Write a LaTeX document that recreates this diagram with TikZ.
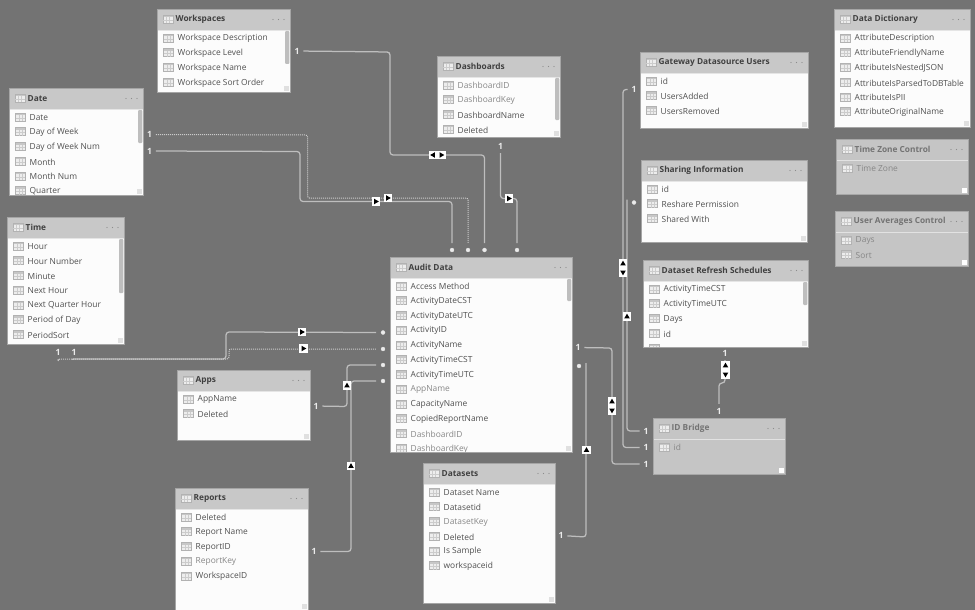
\documentclass[tikz,border=0pt]{standalone}
\usepackage{fontspec}
\setmainfont{Open Sans}
\usetikzlibrary{positioning,calc}
\definecolor{canvascolor}{RGB}{115,115,115}
\definecolor{headcolor}{RGB}{200,200,200}
\definecolor{dimcolor}{RGB}{197,197,197}
\definecolor{edgecolor}{RGB}{165,165,165}
\definecolor{linecolor}{RGB}{190,190,190}
\definecolor{fieldcolor}{RGB}{80,80,80}
\definecolor{hiddencolor}{RGB}{135,135,135}
\definecolor{thumbcolor}{RGB}{190,190,190}

\newcommand{\hid}[1]{\textcolor{hiddencolor}{#1}}

% style prefix, name, x, y, width, height, title, fields
\newcommand{\dbtable}[8][live]{%
  \node[#1box, minimum width=#5pt, minimum height=#6pt, anchor=north west] (#2) at (#3,#4) {};
  \fill[#1head] (#2.north west) rectangle ([yshift=-21.5pt]#2.north east);
  \draw[#1sep] ([yshift=-21.5pt]#2.north west) -- ([yshift=-21.5pt]#2.north east);
  \pic at ([xshift=11pt,yshift=-10pt]#2.north west) {gridicon};
  \node[#1title, anchor=west] (#2Title) at ([xshift=18.5pt,yshift=-10.5pt]#2.north west) {#7};
  \foreach \k in {0,1,2}
    \fill[black!45] ([xshift={-(6+\k*5.5)*1pt},yshift=-10.5pt]#2.north east) circle (0.6pt);
  \begin{scope}
    \clip (#2.north west) rectangle (#2.south east);
    \foreach \row [count=\i] in {#8} {
      \pic at ([xshift=11.5pt,yshift={-(28.8+(\i-1)*14.75)*1pt}]#2.north west) {gridicon};
      \node[#1field, anchor=west] (#2Row\i) at ([xshift=20.5pt,yshift={-(29.6+(\i-1)*14.75)*1pt}]#2.north west) {\row};
    }
  \end{scope}
  \fill[#1grip] ([xshift=-6pt,yshift=1pt]#2.south east) rectangle ([xshift=-1pt,yshift=6pt]#2.south east);
  \draw[#1edge] (#2.north west) rectangle (#2.south east);
}
\newcommand{\scrollthumb}[2]{%
  \fill[thumbcolor, rounded corners=1pt] ([xshift=-5pt,yshift=-22pt]#1.north east) rectangle ([xshift=-0.6pt,yshift={-(22+#2)*1pt}]#1.north east);
}

\begin{document}
\begin{tikzpicture}[
  x=1pt, y=-1pt,
  gridicon/.pic={
    \fill[black!7] (-4.8,-4) rectangle (4.8,4);
    \fill[black!22] (-4.8,-4) rectangle (4.8,-1.8);
    \draw[black!30, line width=0.5pt] (-4.8,-4) rectangle (4.8,4);
    \draw[black!20, line width=0.4pt] (-1.8,-1.8) -- (-1.8,4) (1.5,-1.8) -- (1.5,4)
      (-4.8,1) -- (4.8,1);
  },
  livebox/.style={fill=white!99!black, inner sep=0pt, outer sep=0pt},
  dimbox/.style={fill=dimcolor, inner sep=0pt, outer sep=0pt},
  livehead/.style={fill=headcolor},
  dimhead/.style={fill=dimcolor},
  livesep/.style={draw=white!90!black, line width=0.4pt},
  dimsep/.style={draw=white!50!dimcolor, line width=0.5pt},
  liveedge/.style={draw=edgecolor, line width=0.8pt},
  dimedge/.style={draw=dimcolor!85!black, line width=0.6pt},
  livetitle/.style={font=\fontsize{8.3}{10}\selectfont\bfseries, text=black!75, inner sep=0pt},
  dimtitle/.style={font=\fontsize{8.3}{10}\selectfont\bfseries, text=black!55, inner sep=0pt},
  livefield/.style={font=\fontsize{8.4}{10}\selectfont, text=fieldcolor, inner sep=0pt},
  dimfield/.style={font=\fontsize{8.4}{10}\selectfont, text=hiddencolor, inner sep=0pt},
  livegrip/.style={fill=black!12},
  dimgrip/.style={fill=white},
  onemark/.style={font=\fontsize{8.6}{10}\selectfont\bfseries, text=white!92!black, inner sep=1pt, outer sep=3pt},
  manymark/.style={circle, fill=white!92!black, draw=black!10, line width=0.3pt, minimum size=4pt, inner sep=0pt, outer sep=5pt},
  rel/.style={draw=linecolor, line width=1.25pt, rounded corners=3pt},
  reldot/.style={draw=white!80!black, line width=1pt, dash pattern=on 1pt off 1pt, rounded corners=2pt},
  badge/.style={
    rectangle, fill=white, minimum size=8.5pt, inner sep=0pt,
    path picture={
      \fill[black] ([shift={(#1:2.8pt)}]path picture bounding box.center)
        -- ([shift={(#1+125:3.4pt)}]path picture bounding box.center)
        -- ([shift={(#1-125:3.4pt)}]path picture bounding box.center) -- cycle;
    }
  }
]
\useasboundingbox (0,0) rectangle (975,610);
\fill[canvascolor] (0,0) rectangle (975,610);

% -------- Tables --------
\dbtable{workspaces}{157}{9}{133}{83}{Workspaces}{Workspace Description,Workspace Level,Workspace Name,Workspace Sort Order}
\scrollthumb{workspaces}{33}
\dbtable{date}{9}{88}{134}{107}{Date}{Date,Day of Week,Day of Week Num,Month,Month Num,Quarter}
\scrollthumb{date}{33}
\dbtable{time}{7}{217}{117}{127}{Time}{Hour,Hour Number,Minute,Next Hour,Next Quarter Hour,Period of Day,PeriodSort}
\scrollthumb{time}{54}
\dbtable{apps}{177}{370}{133}{70}{Apps}{AppName,Deleted}
\dbtable{reports}{175}{488}{133}{122}{Reports}{Deleted,Report Name,ReportID,\hid{ReportKey},WorkspaceID}
\dbtable{dashboards}{437}{56}{123}{81}{Dashboards}{\hid{DashboardID},\hid{DashboardKey},DashboardName,Deleted}
\scrollthumb{dashboards}{42}
\dbtable{audit}{390}{257}{182}{195}{Audit Data}{Access Method,ActivityDateCST,ActivityDateUTC,ActivityID,ActivityName,ActivityTimeCST,ActivityTimeUTC,\hid{AppName},CapacityName,CopiedReportName,\hid{DashboardID},\hid{DashboardKey}}
\scrollthumb{audit}{22}
\dbtable{datasets}{423}{463}{132}{140}{Datasets}{Dataset Name,Datasetid,\hid{DatasetKey},Deleted,Is Sample,workspaceid}
\dbtable{gateway}{640}{52}{168}{76}{Gateway Datasource Users}{id,UsersAdded,UsersRemoved}
\dbtable{sharing}{641}{160}{166}{82}{Sharing Information}{id,Reshare Permission,Shared With}
\dbtable{refresh}{643}{260}{165}{87}{Dataset Refresh Schedules}{ActivityTimeCST,ActivityTimeUTC,Days,id,\relax}
\scrollthumb{refresh}{23}
\dbtable{dictionary}{834}{9}{136}{118}{Data Dictionary}{AttributeDescription,AttributeFriendlyName,AttributeIsNestedJSON,AttributeIsParsedToDBTable,AttributeIsPII,AttributeOriginalName}
\dbtable[dim]{timezone}{836}{139}{132}{55}{Time Zone Control}{Time Zone}
\dbtable[dim]{averages}{835}{211}{133}{55}{User Averages Control}{Days,Sort}
\dbtable[dim]{bridge}{653}{418}{132}{56}{ID Bridge}{id}

% -------- Cardinality marks --------
\node[onemark] (workspacesOne) at (297,51) {1};
\node[onemark] (dateOneA) at (149.5,134.5) {1};
\node[onemark] (dateOneB) at (149.5,151) {1};
\node[onemark] (timeOneA) at (58,352) {1};
\node[onemark] (timeOneB) at (74,352) {1};
\node[onemark] (appsOne) at (316,406) {1};
\node[onemark] (reportsOne) at (314,551.5) {1};
\node[onemark] (dashboardsOne) at (500.5,146) {1};
\node[onemark] (auditOne) at (578,347.5) {1};
\node[onemark] (datasetsOne) at (561,535.5) {1};
\node[onemark] (gatewayOne) at (634,89.5) {1};
\node[onemark] (refreshOne) at (725,353) {1};
\node[onemark] (bridgeOneTop) at (719,411) {1};
\node[onemark] (bridgeOneA) at (646,431) {1};
\node[onemark] (bridgeOneB) at (646,447.5) {1};
\node[onemark] (bridgeOneC) at (646,464) {1};

\node[manymark] (auditTopA) at (452,250) {};
\node[manymark] (auditTopB) at (468,250) {};
\node[manymark] (auditTopC) at (484.5,250) {};
\node[manymark] (auditTopD) at (517,250) {};
\node[manymark] (auditLeftA) at (383,332.5) {};
\node[manymark] (auditLeftB) at (383,349) {};
\node[manymark] (auditLeftC) at (383,365) {};
\node[manymark] (auditLeftD) at (383,381) {};
\node[manymark] (auditRight) at (579,366) {};
\node[manymark] (sharingMany) at (634,202.5) {};

% -------- Relationships --------
\draw[rel] (workspacesOne) -- (390,52) -- (390,155) -- (484.5,155) -- (auditTopC);
\draw[reldot] (dateOneA) -- (307.5,135) -- (307.5,198) -- (468,198) -- (auditTopB);
\draw[rel] (dateOneB) -- (300,151.5) -- (300,201.5) -- (452,201.5) -- (auditTopA);
\draw[rel] (dashboardsOne) -- (500.5,198.5) -- (517,198.5) -- (auditTopD);
\draw[rel] (timeOneB.south) -- (75,359) -- (226,359) -- (226,332) -- (auditLeftA);
\draw[reldot] (timeOneA.south) -- (58,359) -- (229,359) -- (229,349) -- (auditLeftB);
\draw[rel] (appsOne) -- (347,406.5) -- (347,365) -- (auditLeftC);
\draw[rel] (reportsOne) -- (351,551.5) -- (351,381) -- (auditLeftD);
\draw[rel] (auditOne) -- (612,348) -- (612,464) -- (bridgeOneC);
\draw[rel] (auditRight) -- (586,366) -- (586,537) -- (datasetsOne);
\draw[rel] (gatewayOne) -- (623,89.5) -- (623,447.5) -- (bridgeOneB);
\draw[rel] (sharingMany) -- (627,202.5) -- (627,431) -- (bridgeOneA);
\draw[rel] (refreshOne) -- (725,383) -- (719,383) -- (bridgeOneTop);

% -------- Direction badges --------
\node[badge=180] (workspacesBadgeL) at (433,155) {};
\node[badge=0] (workspacesBadgeR) at (441.5,155) {};
\node[badge=0] (dateBadgeA) at (388,198) {};
\node[badge=0] (dateBadgeB) at (376,201.5) {};
\node[badge=0] (dashboardsBadge) at (509,198.5) {};
\node[badge=0] (timeBadgeA) at (302,332) {};
\node[badge=0] (timeBadgeB) at (303.5,348.5) {};
\node[badge=90] (appsBadge) at (347,385.5) {};
\node[badge=90] (reportsBadge) at (351,466) {};
\node[badge=90] (auditBadgeUp) at (612,401.5) {};
\node[badge=-90] (auditBadgeDown) at (612,410.5) {};
\node[badge=90] (datasetsBadge) at (586.5,450) {};
\node[badge=90] (gatewayBadgeUp) at (623,263.5) {};
\node[badge=-90] (gatewayBadgeDown) at (623,272.5) {};
\node[badge=90] (sharingBadge) at (627,316.5) {};
\node[badge=90] (refreshBadgeUp) at (725.5,365.5) {};
\node[badge=-90] (refreshBadgeDown) at (725.5,374.5) {};

\end{tikzpicture}
\end{document}
